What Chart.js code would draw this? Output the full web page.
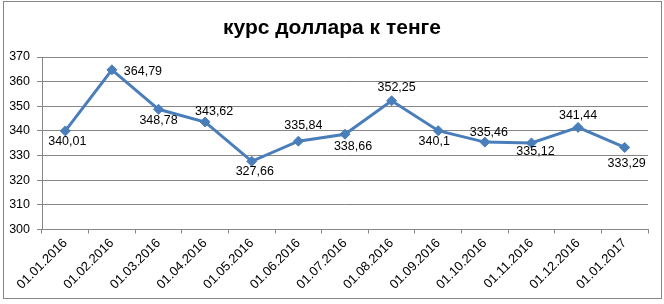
<!DOCTYPE html>
<html>
<head>
<meta charset="utf-8">
<script src="https://cdn.jsdelivr.net/npm/chart.js@4"></script>
<style>
html,body{margin:0;padding:0;background:#fff;}
canvas{display:block;}
</style>
</head>
<body>
<canvas id="c" width="664" height="304"></canvas>
<script>
const titleText = "курс доллара к тенге";
const categories = ["01.01.2016","01.02.2016","01.03.2016","01.04.2016","01.05.2016","01.06.2016","01.07.2016","01.08.2016","01.09.2016","01.10.2016","01.11.2016","01.12.2016","01.01.2017"];
const rates = [340.01, 364.79, 348.78, 343.62, 327.66, 335.84, 338.66, 352.25, 340.1, 335.46, 335.12, 341.44, 333.29];
const rateLabels = ["340,01","364,79","348,78","343,62","327,66","335,84","338,66","352,25","340,1","335,46","335,12","341,44","333,29"];
const yMin = 300, yMax = 370, yStep = 10;

// label placement (style): offsets from point centre, in px
const labelOffsets = [[2,11],[31,2],[0,11],[9,-10],[3,10],[5,-16],[8,12],[5,-13],[-4,11],[4,-10],[4,9],[0,-11.5],[2,16]];

const FONT = "'Liberation Sans', Arial, sans-serif";
const GRID = "#868686";
const LINE = "#4A7EBB";

const framePlugin = {
  id: 'frame',
  beforeDraw(chart) {
    const ctx = chart.ctx;
    ctx.save();
    ctx.fillStyle = '#fff';
    ctx.fillRect(0, 0, chart.width, chart.height);
    ctx.strokeStyle = GRID;
    ctx.lineWidth = 1;
    ctx.strokeRect(3.5, 1.5, 658, 297);
    ctx.fillStyle = '#000';
    ctx.font = "bold 21px " + FONT;
    ctx.textAlign = 'center';
    ctx.textBaseline = 'middle';
    ctx.fillText(titleText, 332, 28);
    ctx.restore();
  }
};

const labelPlugin = {
  id: 'pointLabels',
  afterDatasetsDraw(chart) {
    const ctx = chart.ctx;
    const meta = chart.getDatasetMeta(0);
    ctx.save();
    ctx.fillStyle = '#000';
    ctx.font = "12.5px " + FONT;
    ctx.textAlign = 'center';
    ctx.textBaseline = 'middle';
    meta.data.forEach((pt, i) => {
      const o = labelOffsets[i];
      ctx.fillText(rateLabels[i], pt.x + o[0], pt.y + o[1]);
    });
    ctx.restore();
  }
};

new Chart(document.getElementById('c'), {
  type: 'line',
  data: {
    labels: categories,
    datasets: [{
      data: rates,
      borderColor: LINE,
      backgroundColor: LINE,
      borderWidth: 3,
      pointStyle: 'rectRot',
      pointRadius: 5,
      pointBorderWidth: 1,
      tension: 0,
      fill: false
    }]
  },
  options: {
    responsive: false,
    animation: false,
    devicePixelRatio: 1,
    layout: { padding: { left: 0, right: 16, top: 57, bottom: 0 } },
    plugins: { legend: { display: false }, title: { display: false }, tooltip: { enabled: false } },
    scales: {
      x: {
        offset: true,
        grid: { offset: true, drawOnChartArea: false, drawTicks: true, tickLength: 4, color: GRID },
        border: { color: GRID, width: 1 },
        ticks: { color: '#000', font: { family: FONT, size: 13 }, maxRotation: 45, minRotation: 45, autoSkip: false, padding: 2 },
        afterFit(s) { s.height = 74.5; }
      },
      y: {
        min: yMin, max: yMax,
        grid: { color: GRID, tickLength: 5, drawTicks: true },
        border: { color: GRID, width: 1 },
        ticks: { stepSize: yStep, color: '#000', font: { family: FONT, size: 12.5 }, padding: 7 },
        afterFit(s) { s.width = 42; }
      }
    }
  },
  plugins: [framePlugin, labelPlugin]
});
</script>
</body>
</html>
